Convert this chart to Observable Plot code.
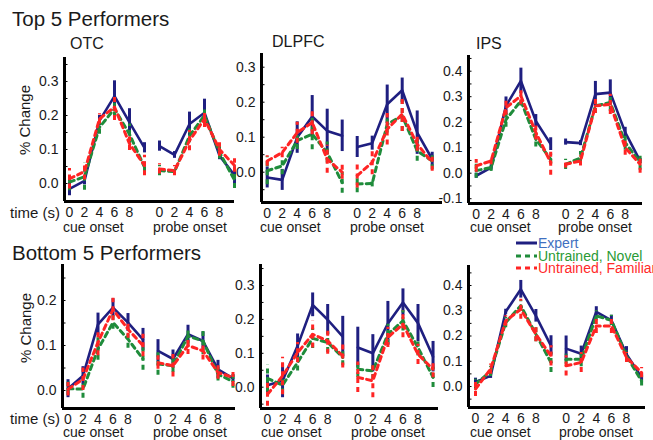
<!DOCTYPE html>
<html><head><meta charset="utf-8">
<script src="https://cdn.jsdelivr.net/npm/d3@7"></script>
<script src="https://cdn.jsdelivr.net/npm/@observablehq/plot@0.6"></script>
<style>
body{margin:0;background:#fff;}
#fig{position:relative;width:653px;height:440px;overflow:hidden;font-family:"Liberation Sans",Arial,Helvetica,sans-serif;color:#1a1a1a;background:#fff;}
.t{position:absolute;white-space:nowrap;line-height:1;}
.p{position:absolute;}
</style></head><body><div id="fig"></div>
<script>
// ---------- data ----------
const seriesNames = ["Expert", "Untrained, Novel", "Untrained, Familiar"];
const timeIndex = [0,1,2,3,4,5,6,7,8,9,10,11];
const segments = ["cue","cue","cue","cue","cue","cue","probe","probe","probe","probe","probe","probe"];
const xTickIndex = [0,1,2,3,4,6,7,8,9,10];
const xTickLabels = ["0","2","4","6","8","0","2","4","6","8"];
const regionNames = ["OTC", "DLPFC", "IPS"];
const groupTitles = ["Top 5 Performers", "Bottom 5 Performers"];

// Top 5 performers
const otcTopExpert      = [-0.016, 0.008, 0.185, 0.257, 0.180, 0.105, 0.110, 0.084, 0.175, 0.208, 0.082, 0.024];
const otcTopExpertErr   = [0.020, 0.012, 0.015, 0.045, 0.040, 0.015, 0.015, 0.010, 0.035, 0.040, 0.012, 0.025];
const otcTopNovel       = [0.004, 0.020, 0.165, 0.220, 0.145, 0.048, 0.038, 0.035, 0.140, 0.200, 0.092, 0.010];
const otcTopNovelErr    = [0.025, 0.040, 0.020, 0.025, 0.030, 0.015, 0.015, 0.010, 0.020, 0.025, 0.020, 0.025];
const otcTopFamiliar    = [0.014, 0.035, 0.190, 0.225, 0.117, 0.053, 0.043, 0.038, 0.126, 0.190, 0.100, 0.053];
const otcTopFamiliarErr = [0.030, 0.025, 0.015, 0.040, 0.020, 0.030, 0.015, 0.015, 0.030, 0.025, 0.020, 0.020];

const dlpfcTopExpert      = [-0.015, -0.022, 0.099, 0.159, 0.118, 0.104, 0.072, 0.083, 0.194, 0.234, 0.113, 0.037];
const dlpfcTopExpertErr   = [0.030, 0.030, 0.045, 0.060, 0.062, 0.045, 0.030, 0.020, 0.055, 0.035, 0.062, 0.020];
const dlpfcTopNovel       = [0.004, 0.018, 0.090, 0.109, 0.056, -0.030, -0.034, -0.032, 0.137, 0.161, 0.061, 0.032];
const dlpfcTopNovelErr    = [0.040, 0.025, 0.025, 0.045, 0.030, 0.030, 0.025, 0.010, 0.025, 0.045, 0.030, 0.025];
const dlpfcTopFamiliar    = [0.032, 0.056, 0.113, 0.142, 0.037, 0.000, -0.010, 0.028, 0.123, 0.166, 0.080, 0.028];
const dlpfcTopFamiliarErr = [0.015, 0.015, 0.030, 0.035, 0.040, 0.020, 0.035, 0.035, 0.045, 0.050, 0.020, 0.025];

const ipsTopExpert      = [-0.010, 0.022, 0.264, 0.362, 0.205, 0.114, 0.122, 0.118, 0.310, 0.316, 0.160, 0.048];
const ipsTopExpertErr   = [0.010, 0.010, 0.035, 0.050, 0.025, 0.025, 0.012, 0.010, 0.050, 0.050, 0.020, 0.010];
const ipsTopNovel       = [0.010, 0.022, 0.210, 0.284, 0.133, 0.055, 0.035, 0.060, 0.264, 0.277, 0.120, 0.042];
const ipsTopNovelErr    = [0.030, 0.015, 0.030, 0.020, 0.030, 0.020, 0.020, 0.025, 0.030, 0.035, 0.030, 0.030];
const ipsTopFamiliar    = [0.029, 0.048, 0.257, 0.303, 0.160, 0.042, 0.035, 0.048, 0.264, 0.270, 0.100, 0.035];
const ipsTopFamiliarErr = [0.025, 0.015, 0.030, 0.035, 0.030, 0.050, 0.015, 0.020, 0.030, 0.040, 0.030, 0.035];

// Bottom 5 performers
const otcBotExpert      = [0.004, 0.033, 0.147, 0.184, 0.151, 0.113, 0.088, 0.070, 0.125, 0.110, 0.047, 0.027];
const otcBotExpertErr   = [0.020, 0.020, 0.025, 0.020, 0.020, 0.025, 0.025, 0.020, 0.020, 0.020, 0.020, 0.008];
const otcBotNovel       = [0.004, 0.003, 0.092, 0.151, 0.114, 0.070, 0.059, 0.055, 0.121, 0.110, 0.036, 0.020];
const otcBotNovelErr    = [0.015, 0.020, 0.025, 0.015, 0.020, 0.025, 0.025, 0.015, 0.020, 0.030, 0.015, 0.015];
const otcBotFamiliar    = [0.003, 0.025, 0.107, 0.180, 0.136, 0.100, 0.062, 0.055, 0.100, 0.088, 0.040, 0.029];
const otcBotFamiliarErr = [0.015, 0.025, 0.030, 0.025, 0.020, 0.025, 0.015, 0.025, 0.020, 0.020, 0.015, 0.020];

const dlpfcBotExpert      = [0.006, 0.019, 0.122, 0.243, 0.199, 0.149, 0.117, 0.100, 0.188, 0.250, 0.189, 0.090];
const dlpfcBotExpertErr   = [0.030, 0.050, 0.035, 0.035, 0.045, 0.060, 0.060, 0.055, 0.065, 0.040, 0.055, 0.045];
const dlpfcBotNovel       = [0.026, 0.006, 0.073, 0.144, 0.132, 0.088, 0.053, 0.048, 0.156, 0.196, 0.117, 0.029];
const dlpfcBotNovelErr    = [0.040, 0.025, 0.025, 0.030, 0.030, 0.025, 0.025, 0.025, 0.030, 0.030, 0.025, 0.030];
const dlpfcBotFamiliar    = [-0.021, 0.033, 0.102, 0.156, 0.137, 0.092, 0.029, 0.019, 0.147, 0.186, 0.097, 0.053];
const dlpfcBotFamiliarErr = [0.035, 0.055, 0.030, 0.040, 0.040, 0.035, 0.045, 0.050, 0.030, 0.040, 0.030, 0.025];

const ipsBotExpert      = [0.018, 0.042, 0.296, 0.385, 0.280, 0.161, 0.150, 0.130, 0.296, 0.262, 0.128, 0.036];
const ipsBotExpertErr   = [0.015, 0.010, 0.010, 0.035, 0.025, 0.040, 0.050, 0.030, 0.020, 0.020, 0.030, 0.015];
const ipsBotNovel       = [0.009, 0.060, 0.253, 0.320, 0.207, 0.095, 0.108, 0.108, 0.280, 0.262, 0.121, 0.022];
const ipsBotNovelErr    = [0.020, 0.020, 0.020, 0.020, 0.030, 0.040, 0.020, 0.030, 0.020, 0.020, 0.020, 0.020];
const ipsBotFamiliar    = [-0.010, 0.069, 0.260, 0.306, 0.207, 0.121, 0.082, 0.095, 0.240, 0.240, 0.115, 0.055];
const ipsBotFamiliarErr = [0.030, 0.020, 0.020, 0.040, 0.030, 0.040, 0.040, 0.040, 0.030, 0.030, 0.020, 0.020];

const yTicksOTCTop = [0.0, 0.1, 0.2, 0.3];
const yTicksDLPFCTop = [0.0, 0.1, 0.2, 0.3];
const yTicksIPSTop = [-0.1, 0.0, 0.1, 0.2, 0.3, 0.4];
const yTicksOTCBot = [0.0, 0.1, 0.2];
const yTicksDLPFCBot = [0.0, 0.1, 0.2, 0.3];
const yTicksIPSBot = [0.0, 0.1, 0.2, 0.3, 0.4];

// ---------- styles ----------
const seriesStyle = [
  {stroke: "#1f1f80", width: 2.6, dash: null, text: "#3f70c0"},
  {stroke: "#1f8c3b", width: 3, dash: "5,4", text: "#2a9a35"},
  {stroke: "#ff2424", width: 3, dash: "5,4", text: "#ff2a2a"}
];

// layout (page pixels): frame left/right/top/bottom, x of index 0, px per index, y px of 0, px per 0.1
const panels = [
  {vals: [otcTopExpert, otcTopNovel, otcTopFamiliar], errs: [otcTopExpertErr, otcTopNovelErr, otcTopFamiliarErr], yTicks: yTicksOTCTop,
   L: 64, R: 234, T: 57, B: 201, x0: 69, dx: 15, y0: 183, p01: 34},
  {vals: [dlpfcTopExpert, dlpfcTopNovel, dlpfcTopFamiliar], errs: [dlpfcTopExpertErr, dlpfcTopNovelErr, dlpfcTopFamiliarErr], yTicks: yTicksDLPFCTop,
   L: 261, R: 442, T: 53, B: 202, x0: 266.7, dx: 15, y0: 171.7, p01: 35},
  {vals: [ipsTopExpert, ipsTopNovel, ipsTopFamiliar], errs: [ipsTopExpertErr, ipsTopNovelErr, ipsTopFamiliarErr], yTicks: yTicksIPSTop,
   L: 468, R: 642, T: 55, B: 203, x0: 475.7, dx: 14.9, y0: 172.7, p01: 25.5},
  {vals: [otcBotExpert, otcBotNovel, otcBotFamiliar], errs: [otcBotExpertErr, otcBotNovelErr, otcBotFamiliarErr], yTicks: yTicksOTCBot,
   L: 62, R: 235, T: 264, B: 408, x0: 67.5, dx: 15, y0: 390, p01: 45},
  {vals: [dlpfcBotExpert, dlpfcBotNovel, dlpfcBotFamiliar], errs: [dlpfcBotExpertErr, dlpfcBotNovelErr, dlpfcBotFamiliarErr], yTicks: yTicksDLPFCBot,
   L: 260, R: 438, T: 264, B: 408, x0: 267, dx: 15.05, y0: 386.7, p01: 33.9},
  {vals: [ipsBotExpert, ipsBotNovel, ipsBotFamiliar], errs: [ipsBotExpertErr, ipsBotNovelErr, ipsBotFamiliarErr], yTicks: yTicksIPSBot,
   L: 468, R: 645, T: 265, B: 407, x0: 475, dx: 15.1, y0: 386, p01: 25.25}
];

const fig = document.getElementById("fig");
const FONT = '"Liberation Sans", Arial, Helvetica, sans-serif';

function addText(str, left, baseline, size, opts = {}) {
  const d = document.createElement("div");
  d.className = "t";
  d.textContent = str;
  d.style.left = left + "px";
  d.style.top = (baseline - 0.8465 * size) + "px";
  d.style.fontSize = size + "px";
  if (opts.color) d.style.color = opts.color;
  fig.appendChild(d);
  return d;
}

function addRotated(str, cx, cy, size) {
  const d = document.createElement("div");
  d.className = "t";
  d.textContent = str;
  d.style.fontSize = size + "px";
  d.style.left = cx + "px";
  d.style.top = cy + "px";
  d.style.transform = "translate(-50%,-50%) rotate(-90deg)";
  fig.appendChild(d);
}

const ml = 40, mr = 6, mt = 4, mb = 30;

panels.forEach(p => {
  const xlo = (p.L - p.x0) / p.dx, xhi = (p.R - p.x0) / p.dx;
  const ymax = (p.y0 - p.T) / (p.p01 * 10), ymin = (p.y0 - p.B) / (p.p01 * 10);
  const rows = [];
  p.vals.forEach((arr, s) => {
    arr.forEach((v, k) => rows.push({i: timeIndex[k], seg: segments[k], s, v, e: p.errs[s][k]}));
  });
  const minor = d3.range(Math.ceil(ymin / 0.05) * 0.05, ymax, 0.05);
  const tickLen = (xhi - xlo) / (p.R - p.L) * 3.5;
  const marks = [
    Plot.ruleY(minor, {x1: xlo, x2: xlo + tickLen, stroke: "#000", strokeWidth: 1}),
    Plot.ruleX([xlo], {stroke: "#000", strokeWidth: 3}),
    Plot.ruleY([ymin], {stroke: "#000", strokeWidth: 3}),
    Plot.axisY({ticks: p.yTicks, tickFormat: d => d.toFixed(1), tickSize: 0, tickPadding: 6, fontSize: 14, fill: "#1a1a1a", label: null}),
    Plot.axisX({ticks: xTickIndex, tickFormat: d => xTickLabels[xTickIndex.indexOf(d)], tickSize: 0, tickPadding: 6, fontSize: 14, fill: "#1a1a1a", label: null})
  ];
  [0, 1, 2].forEach(s => {
    const st = seriesStyle[s];
    const data = rows.filter(r => r.s === s);
    marks.push(Plot.ruleX(data, {x: "i", y1: d => d.v - d.e, y2: d => d.v + d.e, stroke: st.stroke, strokeWidth: 3, strokeDasharray: st.dash}));
    marks.push(Plot.line(data, {x: "i", y: "v", z: "seg", stroke: st.stroke, strokeWidth: st.width, strokeDasharray: st.dash}));
  });
  const svg = Plot.plot({
    width: p.R - p.L + ml + mr,
    height: p.B - p.T + mt + mb,
    marginLeft: ml, marginRight: mr, marginTop: mt, marginBottom: mb,
    x: {domain: [xlo, xhi], label: null},
    y: {domain: [ymin, ymax], label: null},
    style: {background: "transparent", overflow: "visible", fontFamily: FONT, fontSize: "14px", color: "#1a1a1a"},
    marks
  });
  svg.classList.add("p");
  svg.style.left = (p.L - ml) + "px";
  svg.style.top = (p.T - mt) + "px";
  svg.style.maxWidth = "none";
  fig.appendChild(svg);
});

// titles and labels
addText(groupTitles[0], 12, 26, 20.5);
addText(groupTitles[1], 12, 260, 20.5);
addText(regionNames[0], 70, 49.5, 16);
addText(regionNames[1], 272, 47.3, 16);
addText(regionNames[2], 476, 49.3, 16);
addRotated("% Change", 24, 120, 15);
addRotated("% Change", 25, 328, 15);
addText("time (s)", 10, 218, 15);
addText("time (s)", 10, 423.5, 15);
[[63, 153], [260, 350], [470, 558]].forEach(([c, pr]) => {
  addText("cue onset", c, 232, 14);
  addText("probe onset", pr, 232, 14);
});
[[63, 153], [261, 351], [470, 559]].forEach(([c, pr]) => {
  addText("cue onset", c, 437, 14);
  addText("probe onset", pr, 437, 14);
});

// legend
const legBase = [248, 260.5, 273];
seriesNames.forEach((name, s) => {
  const st = seriesStyle[s];
  const ns = "http://www.w3.org/2000/svg";
  const sv = document.createElementNS(ns, "svg");
  sv.setAttribute("width", 22); sv.setAttribute("height", 6);
  sv.style.position = "absolute";
  sv.style.left = "516px";
  sv.style.top = (legBase[s] - 8) + "px";
  const ln = document.createElementNS(ns, "line");
  ln.setAttribute("x1", 0); ln.setAttribute("x2", 21); ln.setAttribute("y1", 3); ln.setAttribute("y2", 3);
  ln.setAttribute("stroke", st.stroke); ln.setAttribute("stroke-width", 3);
  if (st.dash) ln.setAttribute("stroke-dasharray", st.dash);
  sv.appendChild(ln);
  fig.appendChild(sv);
  addText(name, 538, legBase[s], 14, {color: st.text});
});
</script></body></html>
